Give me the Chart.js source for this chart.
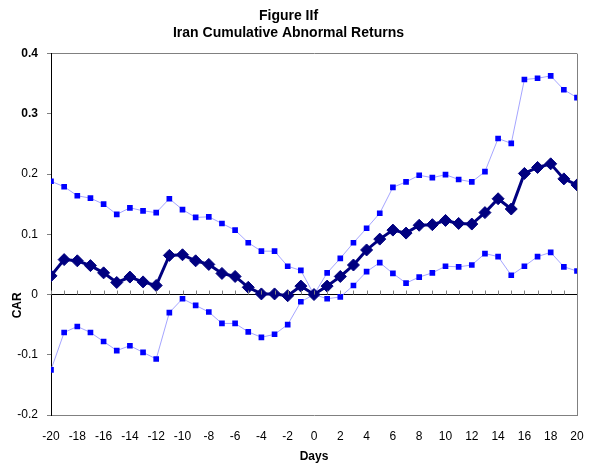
<!DOCTYPE html>
<html>
<head>
<meta charset="utf-8">
<script src="https://cdn.jsdelivr.net/npm/chart.js@4/dist/chart.umd.min.js"></script>
<style>
  html, body { margin: 0; padding: 0; background: #fff; }
  #wrap { width: 589px; height: 464px; }
</style>
</head>
<body>
<div id="wrap"><canvas id="carChart"></canvas></div>
<script>
const days = [-20, -19, -18, -17, -16, -15, -14, -13, -12, -11, -10, -9, -8, -7, -6, -5, -4, -3, -2, -1,
    0, 1, 2, 3, 4, 5, 6, 7, 8, 9, 10, 11, 12, 13, 14, 15, 16, 17, 18, 19, 20];

const car = [0.031, 0.058, 0.056, 0.048, 0.036, 0.020, 0.029, 0.021, 0.015, 0.065, 0.066, 0.056, 0.050, 0.035, 0.030, 0.012, 0.001, 0.001, -0.002, 0.014,
    0.000, 0.014, 0.030, 0.049, 0.074, 0.092, 0.107, 0.102, 0.115, 0.116, 0.123, 0.118, 0.117, 0.136, 0.159, 0.142, 0.201, 0.211, 0.217, 0.192, 0.182];

const upper = [0.188, 0.179, 0.164, 0.160, 0.150, 0.133, 0.144, 0.139, 0.136, 0.159, 0.141, 0.128, 0.129, 0.118, 0.107, 0.086, 0.072, 0.072, 0.047, 0.040,
    0.000, 0.036, 0.060, 0.086, 0.110, 0.135, 0.178, 0.187, 0.198, 0.194, 0.199, 0.191, 0.187, 0.204, 0.259, 0.251, 0.357, 0.359, 0.363, 0.340, 0.327];

const lower = [-0.125, -0.063, -0.053, -0.063, -0.078, -0.093, -0.085, -0.096, -0.107, -0.030, -0.007, -0.018, -0.029, -0.048, -0.048, -0.062, -0.071, -0.066, -0.050, -0.012,
    0.000, -0.007, -0.004, 0.015, 0.038, 0.053, 0.035, 0.019, 0.029, 0.036, 0.047, 0.046, 0.049, 0.068, 0.063, 0.032, 0.047, 0.063, 0.070, 0.046, 0.039];

const yTicks = [-0.2, -0.1, 0, 0.1, 0.2, 0.3, 0.4];
const xTicks = [-20, -18, -16, -14, -12, -10, -8, -6, -4, -2, 0, 2, 4, 6, 8, 10, 12, 14, 16, 18, 20];

const toPoints = arr => days.map((d, i) => ({ x: d, y: arr[i] }));

Chart.defaults.font.family = "'Liberation Sans', Arial, sans-serif";
Chart.defaults.color = '#000';

// small ticks on the zero line and the "CAR" label
const extras = {
    id: 'extras',
    afterDatasetsDraw(chart) {
        const ctx = chart.ctx;
        const xs = chart.scales.x, ys = chart.scales.y;
        const y0 = ys.getPixelForValue(0);
        ctx.save();
        ctx.strokeStyle = '#808080';
        ctx.lineWidth = 1;
        days.forEach(d => {
            const px = Math.round(xs.getPixelForValue(d)) + 0.5;
            ctx.beginPath();
            ctx.moveTo(px, y0);
            ctx.lineTo(px, y0 - 4);
            ctx.stroke();
        });
        ctx.fillStyle = '#000';
        ctx.font = "bold 12px 'Liberation Sans', Arial, sans-serif";
        ctx.textAlign = 'center';
        ctx.textBaseline = 'middle';
        ctx.translate(18, ys.getPixelForValue(-0.018));
        ctx.rotate(-Math.PI / 2);
        ctx.fillText('CAR', 0, 0);
        ctx.restore();
    }
};

new Chart(document.getElementById('carChart'), {
    type: 'line',
    data: {
        datasets: [
            {
                label: 'CAR',
                data: toPoints(car),
                borderColor: '#000080',
                backgroundColor: '#000080',
                borderWidth: 3,
                pointStyle: 'rectRot',
                pointRadius: 6,
                pointBorderWidth: 1,
                tension: 0
            },
            {
                label: 'Upper',
                data: toPoints(upper),
                borderColor: '#a5a5ff',
                backgroundColor: '#0000ff',
                pointBorderColor: '#0000ff',
                borderWidth: 1,
                pointStyle: 'rect',
                pointRadius: 4,
                pointBorderWidth: 0,
                tension: 0
            },
            {
                label: 'Lower',
                data: toPoints(lower),
                borderColor: '#a5a5ff',
                backgroundColor: '#0000ff',
                pointBorderColor: '#0000ff',
                borderWidth: 1,
                pointStyle: 'rect',
                pointRadius: 4,
                pointBorderWidth: 0,
                tension: 0
            }
        ]
    },
    options: {
        responsive: true,
        maintainAspectRatio: false,
        animation: false,
        layout: { padding: { left: 0, right: 12, top: 8, bottom: 0 } },
        plugins: {
            legend: { display: false },
            tooltip: { enabled: false },
            title: {
                display: true,
                text: ['Figure IIf', 'Iran Cumulative Abnormal Returns'],
                font: { size: 14, weight: 'bold' },
                lineHeight: 0.95,
                padding: { top: 0, bottom: 12 }
            }
        },
        scales: {
            x: {
                type: 'linear',
                min: -20,
                max: 20,
                afterBuildTicks: scale => { scale.ticks = xTicks.map(v => ({ value: v })); },
                afterFit: scale => {
                    scale.height = 49;
                    scale.paddingLeft = 0;
                    scale.paddingRight = 0;
                },
                ticks: { font: { size: 12 }, padding: 14, maxRotation: 0, autoSkip: false },
                grid: {
                    drawTicks: false,
                    color: c => (c.tick && c.tick.value === 20) ? '#808080' : 'rgba(0,0,0,0)'
                },
                border: { color: '#808080', width: 1 },
                title: { display: true, text: 'Days', font: { size: 12, weight: 'bold' }, padding: { top: 4, bottom: 0 } }
            },
            y: {
                min: -0.2,
                max: 0.4,
                afterBuildTicks: scale => { scale.ticks = yTicks.map(v => ({ value: v })); },
                afterFit: scale => { scale.width = 51; },
                ticks: {
                    font: c => ({ size: 12, weight: (c.tick && c.tick.value >= 0.3) ? 'bold' : 'normal' }),
                    padding: 9,
                    callback: v => String(Math.round(v * 10) / 10)
                },
                grid: {
                    tickLength: 4,
                    tickColor: '#808080',
                    color: c => {
                        if (!c.tick) return 'rgba(0,0,0,0)';
                        if (c.tick.value === 0) return '#000';
                        if (c.tick.value === 0.4) return '#808080';
                        return 'rgba(0,0,0,0)';
                    }
                },
                border: { color: '#000', width: 1 }
            }
        }
    },
    plugins: [extras]
});
</script>
</body>
</html>
